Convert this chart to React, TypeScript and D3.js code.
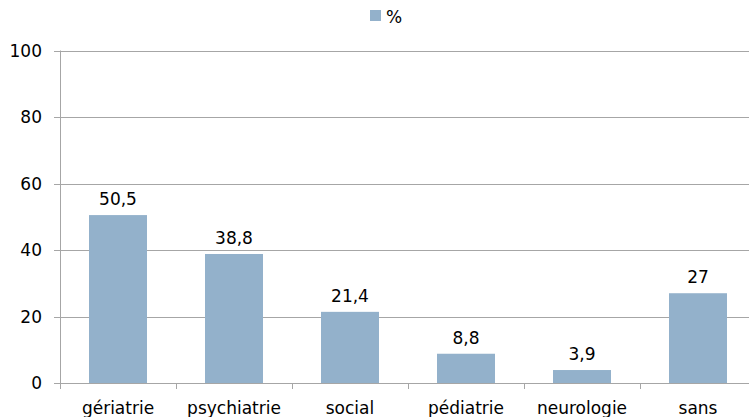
import { useRef, useEffect } from 'react';
import * as d3 from 'd3';

const categories = ['gériatrie', 'psychiatrie', 'social', 'pédiatrie', 'neurologie', 'sans'];
const values = [50.5, 38.8, 21.4, 8.8, 3.9, 27];
const valueLabels = ['50,5', '38,8', '21,4', '8,8', '3,9', '27'];
const yTicks = [0, 20, 40, 60, 80, 100];
const seriesName = '%';

const width = 749;
const height = 417;
const barColor = '#93b1cb';
const font = '"DejaVu Sans", sans-serif';

export default function App() {
  const svgRef = useRef<SVGSVGElement>(null);

  useEffect(() => {
    if (!svgRef.current) return;
    const svg = d3.select(svgRef.current);
    svg.selectAll('*').remove();

    const left = 60;
    const x = d3.scaleBand<string>()
      .domain(categories)
      .range([left, left + 116 * 6])
      .paddingInner(0.5)
      .paddingOuter(0.25);
    const y = d3.scaleLinear().domain([0, 100]).range([383, 50.5]);

    // Gridlines
    svg.append('g')
      .selectAll('line')
      .data(yTicks)
      .join('line')
      .attr('x1', left - 6)
      .attr('x2', width)
      .attr('y1', (d) => Math.round(y(d)) + 0.5)
      .attr('y2', (d) => Math.round(y(d)) + 0.5)
      .attr('stroke', '#a6a6a6')
      .attr('stroke-width', 1);

    // Y tick labels
    svg.append('g')
      .selectAll('text')
      .data(yTicks)
      .join('text')
      .attr('x', 42)
      .attr('y', (d) => y(d) + 6)
      .attr('text-anchor', 'end')
      .attr('font-family', font)
      .attr('font-size', 17)
      .attr('fill', '#000')
      .text((d) => d);

    // Bars
    svg.append('g')
      .selectAll('rect')
      .data(values)
      .join('rect')
      .attr('x', (_, i) => x(categories[i])!)
      .attr('width', x.bandwidth())
      .attr('y', (d) => y(d))
      .attr('height', (d) => y(0) - y(d))
      .attr('fill', barColor);

    // Value labels
    svg.append('g')
      .selectAll('text')
      .data(values)
      .join('text')
      .attr('x', (_, i) => x(categories[i])! + x.bandwidth() / 2)
      .attr('y', (d) => y(d) - 10)
      .attr('text-anchor', 'middle')
      .attr('font-family', font)
      .attr('font-size', 17)
      .attr('fill', '#000')
      .text((_, i) => valueLabels[i]);

    // Y axis line
    svg.append('line')
      .attr('x1', left + 0.5)
      .attr('x2', left + 0.5)
      .attr('y1', y(100))
      .attr('y2', y(0))
      .attr('stroke', '#a6a6a6');

    // Category tick marks
    const step = x.step();
    svg.append('g')
      .selectAll('line')
      .data(d3.range(categories.length + 1))
      .join('line')
      .attr('x1', (i) => Math.round(left + i * step) + 0.5)
      .attr('x2', (i) => Math.round(left + i * step) + 0.5)
      .attr('y1', y(0))
      .attr('y2', y(0) + 6)
      .attr('stroke', '#a6a6a6');

    // Category labels
    svg.append('g')
      .selectAll('text')
      .data(categories)
      .join('text')
      .attr('x', (d) => x(d)! + x.bandwidth() / 2)
      .attr('y', 414)
      .attr('text-anchor', 'middle')
      .attr('font-family', font)
      .attr('font-size', 17)
      .attr('fill', '#000')
      .text((d) => d);

    // Legend
    svg.append('rect')
      .attr('x', 370)
      .attr('y', 10)
      .attr('width', 11)
      .attr('height', 11)
      .attr('fill', barColor);
    svg.append('text')
      .attr('x', 386)
      .attr('y', 23)
      .attr('font-family', font)
      .attr('font-size', 17)
      .attr('fill', '#000')
      .text(seriesName);
  }, []);

  return (
    <svg
      ref={svgRef}
      width={width}
      height={height}
      style={{ position: 'absolute', left: 0, top: 0, background: '#fff' }}
    />
  );
}
